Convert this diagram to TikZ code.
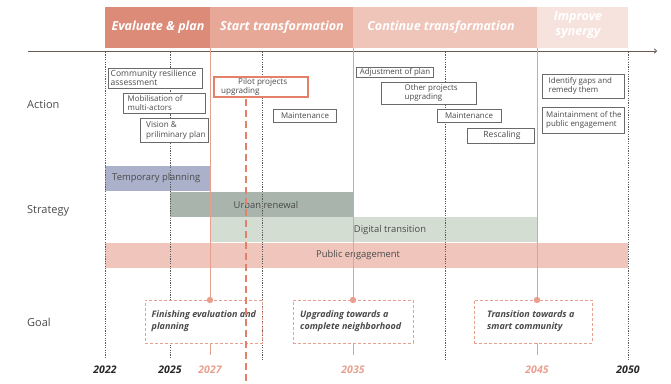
\documentclass[tikz,border=0pt]{standalone}
\usepackage{fontspec}
\setmainfont{Open Sans}
\usetikzlibrary{arrows.meta}
\definecolor{hone}{HTML}{DD8B79}
\definecolor{htwo}{HTML}{E7A898}
\definecolor{hthree}{HTML}{EFC4B9}
\definecolor{hfour}{HTML}{F7E3DE}
\definecolor{salm}{HTML}{E8A08E}
\definecolor{salmdark}{HTML}{E2806A}
\definecolor{axcol}{HTML}{6B5A52}
\definecolor{dotcol}{HTML}{5A5A5A}
\definecolor{boxcol}{HTML}{6A6A6A}
\definecolor{txtcol}{HTML}{4A4A4A}
\definecolor{tempc}{HTML}{ABB0CB}
\definecolor{urbc}{HTML}{A8B4AC}
\definecolor{digc}{HTML}{D4DDD2}
\definecolor{pubc}{HTML}{F0C6BC}
\begin{document}
\begin{tikzpicture}[x=1pt,y=-1pt,
  hdr/.style={anchor=north west,inner sep=0pt,text=white,font=\fontsize{12.5}{13.5}\selectfont\bfseries\itshape,align=center},
  abox/.style={draw=boxcol,line width=0.6pt,fill=white,inner sep=0pt},
  atext/.style={inner sep=0pt,text=txtcol,font=\fontsize{7.9}{9}\selectfont,align=left},
  bar/.style={inner sep=0pt,anchor=north west},
  btext/.style={inner sep=0pt,text=txtcol,font=\fontsize{9.4}{10.5}\selectfont},
  gbox/.style={draw=salm,dash pattern=on 3pt off 2pt,line width=0.8pt,fill=white,inner sep=0pt},
  gtext/.style={inner sep=0pt,text=txtcol,font=\fontsize{9}{12}\selectfont\bfseries\itshape,align=left,anchor=west},
  rowlab/.style={inner sep=0pt,anchor=west,text=txtcol,font=\fontsize{11}{13}\selectfont},
  yearb/.style={inner sep=0pt,text=black!85,font=\fontsize{10.5}{12}\selectfont\bfseries\itshape},
  years/.style={inner sep=0pt,text=salm,font=\fontsize{10.5}{12}\selectfont\bfseries\itshape},
  dotline/.style={draw=dotcol,line width=0.7pt,dash pattern=on 1.2pt off 1.2pt},
  salline/.style={draw=salm,line width=0.7pt},
  axisline/.style={draw=axcol,line width=0.8pt,-{To[length=3pt,width=5pt]}}]
\useasboundingbox (0,0) rectangle (671,383);

% header bands
\node[hdr,fill=hone,minimum width=105pt,minimum height=41pt] (hA) at (105,7) {};
\node[hdr,fill=htwo,minimum width=143pt,minimum height=41pt] (hB) at (210,7) {};
\node[hdr,fill=hthree,minimum width=184pt,minimum height=41pt] (hC) at (353,7) {};
\node[hdr,fill=hfour,minimum width=91pt,minimum height=41pt] (hD) at (537,7) {};
\node[hdr,anchor=center] (tA) at (158,27) {Evaluate \& plan};
\node[hdr,anchor=center] (tB) at (282,27) {Start transformation};
\node[hdr,anchor=center] (tC) at (441,27) {Continue transformation};
\node[hdr,anchor=center,font=\fontsize{12.5}{15.5}\selectfont\bfseries\itshape] (tD) at (578,25) {Improve\\synergy};

% axis
\coordinate (ax0) at (28,51);
\coordinate (ax1) at (657,51);
\draw[axisline] (ax0) -- (ax1);

% row labels
\node[rowlab] (rA) at (27,105) {Action};
\node[rowlab] (rS) at (27,211) {Strategy};
\node[rowlab] (rG) at (27,322) {Goal};

% strategy bars
\node[bar,fill=tempc,minimum width=105pt,minimum height=25pt] (s1) at (105,166) {};
\node[bar,fill=urbc,minimum width=183pt,minimum height=25pt] (s2) at (170,192) {};
\node[bar,fill=digc,minimum width=327pt,minimum height=25pt] (s3) at (210,217) {};
\node[bar,fill=pubc,minimum width=523pt,minimum height=25pt] (s4) at (105,243) {};
\node[btext,anchor=west] (st1) at (112,178.5) {Temporary planning};
\node[btext] (st2) at (266,204.5) {Urban renewal};
\node[btext] (st3) at (390,230) {Digital transition};
\node[btext] (st4) at (358,255.5) {Public engagement};

% vertical dotted lines
\foreach \n/\x/\yb in {d1/105/358,d2/170/358,d3/262/361,d4/445/361,d5/628/360}{
  \coordinate (\n t) at (\x,52);
  \coordinate (\n b) at (\x,\yb);
  \draw[dotline] (\n t) -- (\n b);
}
% salmon solid lines
\foreach \n/\x in {l1/210,l2/353,l3/537}{
  \coordinate (\n t) at (\x,48);
  \coordinate (\n b) at (\x,355);
  \draw[salline] (\n t) -- (\n b);
}

% action boxes
\node[abox,minimum width=94pt,minimum height=20pt] (a1) at (155,78) {};
\node[atext,anchor=west,font=\fontsize{8.5}{8.8}\selectfont] (a1t) at (110.5,78) {Community resilience\\assessment};
\node[abox,minimum width=82pt,minimum height=20pt] (a2) at (164,103) {};
\node[atext,anchor=west] (a2t) at (127.5,103) {Mobilisation of\\multi-actors};
\node[abox,minimum width=68pt,minimum height=24pt] (a3) at (174,130) {};
\node[atext,anchor=west,font=\fontsize{8.1}{10}\selectfont] (a3t) at (146,130) {Vision \&\\priliminary plan};
\node[abox,minimum width=63pt,minimum height=13pt] (a4) at (304.5,115.5) {};
\node[atext] (a4t) at (305,116) {Maintenance};
\node[abox,draw=salmdark,line width=1.8pt,minimum width=94pt,minimum height=20pt] (a5) at (261,87) {};
\node[atext,anchor=west,font=\fontsize{8.1}{9.2}\selectfont] (a5t) at (221,87) {\hspace*{17pt}Pilot projects\\upgrading};
\node[abox,minimum width=77pt,minimum height=10pt] (a6) at (394.5,72) {};
\node[atext] (a6t) at (395,72) {Adjustment of plan};
\node[abox,minimum width=95pt,minimum height=22pt] (a7) at (428.5,93) {};
\node[atext,anchor=west] (a7t) at (404.5,93) {Other projects\\upgrading};
\node[abox,minimum width=64pt,minimum height=13pt] (a8) at (469,115.5) {};
\node[atext] (a8t) at (469,116) {Maintenance};
\node[abox,minimum width=67pt,minimum height=15pt] (a9) at (500.5,135.5) {};
\node[atext,font=\fontsize{8.5}{9}\selectfont] (a9t) at (502,135.5) {Rescaling};
\node[abox,minimum width=82pt,minimum height=24pt] (a10) at (583,86) {};
\node[atext,anchor=west] (a10t) at (548.5,86) {Identify gaps and\\remedy them};
\node[abox,minimum width=82pt,minimum height=26pt] (a11) at (583,120) {};
\node[atext,anchor=west] (a11t) at (546,120) {Maintainment of the\\public engagement};

% goal boxes
\node[gbox,minimum width=117pt,minimum height=43pt] (g1) at (203.5,321.5) {};
\node[gtext] (g1t) at (151.5,321.5) {Finishing evaluation and\\planning};
\node[gbox,minimum width=120pt,minimum height=43pt] (g2) at (353,321.5) {};
\node[gtext] (g2t) at (300,321.5) {Upgrading towards a\\complete neighborhood};
\node[gbox,minimum width=118pt,minimum height=43pt] (g3) at (533,321.5) {};
\node[gtext] (g3t) at (487,321.5) {Transition towards a\\smart community};
\foreach \x/\n in {210/p1,353/p2,537/p3}{
  \fill[salm] (\x,300) circle (3.2pt) coordinate (\n);
}

% thick dashed line
\coordinate (tdt) at (246,99);
\coordinate (tdb) at (246,383);
\draw[draw=salmdark,line width=2.8pt,dash pattern=on 7pt off 4pt] (tdt) -- (tdb);

% years
\node[yearb] (y1) at (105,369.5) {2022};
\node[yearb] (y2) at (170,369.5) {2025};
\node[years] (y3) at (210,369.5) {2027};
\node[years] (y4) at (353,369.5) {2035};
\node[years] (y5) at (537,369.5) {2045};
\node[yearb] (y6) at (628,369.5) {2050};
\end{tikzpicture}
\end{document}
